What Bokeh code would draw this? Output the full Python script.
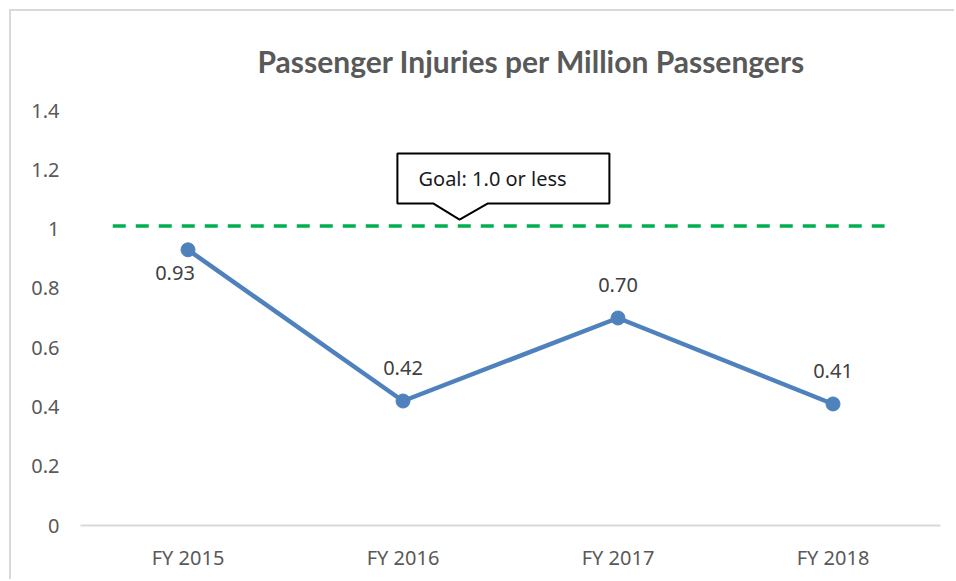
from bokeh.plotting import figure
from bokeh.models import FactorRange, Range1d, FixedTicker, ColumnDataSource
from bokeh.core.properties import value
from bokeh.embed import file_html
from bokeh.resources import INLINE

# ---- data ----
categories = ["FY 2015", "FY 2016", "FY 2017", "FY 2018"]
injuries = [0.93, 0.42, 0.70, 0.41]
labels = ["0.93", "0.42", "0.70", "0.41"]
goal_value = 1.01
goal_text = "Goal: 1.0 or less"
title_text = "Passenger Injuries per Million Passengers"
y_ticks = [0, 0.2, 0.4, 0.6, 0.8, 1.0, 1.2, 1.4]
y_tick_labels = ["0", "0.2", "0.4", "0.6", "0.8", "1", "1.2", "1.4"]

FONT = "Noto Sans"
GREY = "#595959"
BLUE = "#4F81BD"
GREEN = "#00B050"

p = figure(width=945, height=570, x_range=FactorRange(*categories, range_padding=0),
           y_range=Range1d(0, 1.4), output_backend="svg", toolbar_location=None,
           min_border_left=69, min_border_right=16, min_border_top=99, min_border_bottom=56)
p.margin = (9, 0, 0, 9)
p.styles = {"border-top": "2px solid #d9d9d9", "border-left": "2px solid #d9d9d9"}

p.title.text = title_text
p.title.text_font = "Lato"
p.title.text_font_style = "bold"
p.title.text_font_size = "30px"
p.title.text_color = GREY
p.title.align = "left"
p.title.offset = 177
p.title.vertical_align = "top"
p.title.standoff = 60

p.outline_line_color = None
p.xgrid.grid_line_color = None
p.ygrid.grid_line_color = None

p.yaxis.ticker = FixedTicker(ticks=y_ticks)
p.yaxis.major_label_overrides = {t: l for t, l in zip(y_ticks, y_tick_labels)}
p.yaxis.axis_line_color = None
p.yaxis.major_tick_line_color = None
p.yaxis.minor_tick_line_color = None
p.yaxis.major_label_standoff = 15
p.yaxis.major_label_text_font = FONT
p.yaxis.major_label_text_font_size = "20px"
p.yaxis.major_label_text_color = GREY

p.xaxis.axis_line_color = "#d9d9d9"
p.xaxis.axis_line_width = 2
p.xaxis.major_tick_line_color = None
p.xaxis.minor_tick_line_color = None
p.xaxis.major_label_standoff = 12
p.xaxis.major_label_text_font = FONT
p.xaxis.major_label_text_font_size = "20px"
p.xaxis.major_label_text_color = GREY

# goal line (numeric synthetic coords on the factor range)
p.segment(x0=[0.15], x1=[3.74], y0=[goal_value], y1=[goal_value],
          line_color=GREEN, line_width=3.5, line_dash="13 10")

# callout
tip_x, tip_y = 1.763, goal_value + 0.022
bx0, bx1 = 1.474, 2.460
by0, by1 = tip_y + 0.054, tip_y + 0.223
px0, px1 = 1.642, 1.893
p.patch(x=[bx0, bx1, bx1, px1, tip_x, px0, bx0],
        y=[by1, by1, by0, by0, tip_y, by0, by0],
        fill_color="white", line_color="black", line_width=2)
p.text(x=[bx0 + 0.098], y=[(by0 + by1) / 2], text=[goal_text], text_font=value(FONT),
       text_font_size="20px", text_color="#1a1a1a", text_baseline="middle", text_align="left")

src = ColumnDataSource(dict(x=categories, y=injuries, lab=labels))
p.line(x="x", y="y", source=src, line_color=BLUE, line_width=4.5)
p.scatter(x="x", y="y", source=src, size=14, fill_color=BLUE, line_color=BLUE)

p.text(x=categories[:1], y=injuries[:1], text=labels[:1], text_font=value(FONT),
       text_font_size="20px", text_color="#404040", text_align="center",
       text_baseline="middle", x_offset=-13, y_offset=23)
p.text(x=categories[1:], y=injuries[1:], text=labels[1:], text_font=value(FONT),
       text_font_size="20px", text_color="#404040", text_align="center",
       text_baseline="middle", y_offset=-33)

open("out.html", "w").write(file_html(p, INLINE))
